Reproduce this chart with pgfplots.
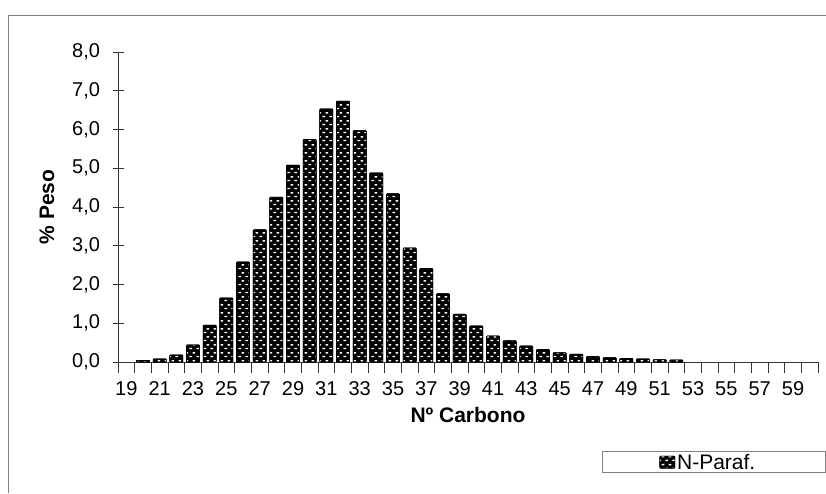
\documentclass[border=0pt]{standalone}
\usepackage{fontspec}
\setmainfont{Liberation Sans}
\usepackage{pgfplots}
\pgfplotsset{compat=1.18}
\usetikzlibrary{patterns}

% white dashes on black, like the Excel bar pattern
\pgfdeclarepatternformonly{brickdash}{\pgfqpoint{0pt}{0pt}}{\pgfqpoint{7pt}{8pt}}{\pgfqpoint{7pt}{8pt}}{%
  \pgfpathrectangle{\pgfqpoint{0.5pt}{1pt}}{\pgfqpoint{3pt}{1.5pt}}%
  \pgfpathrectangle{\pgfqpoint{4pt}{5pt}}{\pgfqpoint{3pt}{1.5pt}}%
  \pgfusepath{fill}}

\pgfplotstableread{
c   w
20  0.04
21  0.08
22  0.18
23  0.44
24  0.95
25  1.65
26  2.58
27  3.41
28  4.25
29  5.08
30  5.74
31  6.53
32  6.73
33  5.97
34  4.88
35  4.34
36  2.94
37  2.41
38  1.76
39  1.23
40  0.93
41  0.67
42  0.55
43  0.41
44  0.32
45  0.24
46  0.20
47  0.14
48  0.11
49  0.09
50  0.08
51  0.06
52  0.05
}\paraf

\begin{document}
\begin{tikzpicture}
\useasboundingbox (0,0) rectangle (826pt,-493pt);
\draw[gray, line width=0.9pt] (8pt,-493pt) -- (8pt,-15pt) -- (826pt,-15pt);
\begin{axis}[
    at={(118pt,-362pt)}, anchor=south west,
    scale only axis, width=700pt, height=310pt,
    axis x line=bottom, axis y line=left,
    axis line style={-, line width=0.8pt, black!80},
    xmin=18.5, xmax=60.5, ymin=0, ymax=8,
    xtick={19,21,...,59},
    minor xtick={18.5,19.5,...,60.5},
    ytick={0,1,...,8},
    major x tick style={draw=none},
    tick align=center,
    major tick length=11pt, minor tick length=11pt,
    tick style={line width=0.8pt, black!80},
    /pgf/number format/assume math mode=true,
    tick label style={font=\fontsize{20}{24}\selectfont},
    xticklabel style={/pgf/number format/1000 sep=, anchor=north, yshift=-5pt},
    yticklabel style={/pgf/number format/.cd, fixed, fixed zerofill, precision=1, use comma, /tikz/.cd, anchor=east, xshift=-9pt},
    xlabel={Nº Carbono}, ylabel={\% Peso},
    label style={font=\bfseries\fontsize{21}{25}\selectfont},
    xlabel style={at={(axis description cs:0.5,-0.171)}, anchor=center},
    ylabel style={at={(axis description cs:-0.1014,0.5)}, anchor=center},
    ybar, bar width=13pt,
    legend style={at={(axis description cs:0.6914,-0.358)}, anchor=south west,
        draw=gray, line width=0.9pt, inner xsep=1pt, inner ysep=0pt,
        font=\fontsize{21}{25}\selectfont},
    legend image code/.code={%
        \path (0pt,0pt) (56pt,0pt);
        \draw[#1, line width=0.6pt] (56pt,-6pt) rectangle (71pt,6pt);},
]
\addplot[draw=black, line width=0.8pt, preaction={fill=black}, pattern=brickdash, pattern color=white, rounded corners=0.8pt]
    table[x=c, y=w] {\paraf};
\addlegendentry{N-Paraf.\rule{67pt}{0pt}}
\end{axis}
\end{tikzpicture}
\end{document}
